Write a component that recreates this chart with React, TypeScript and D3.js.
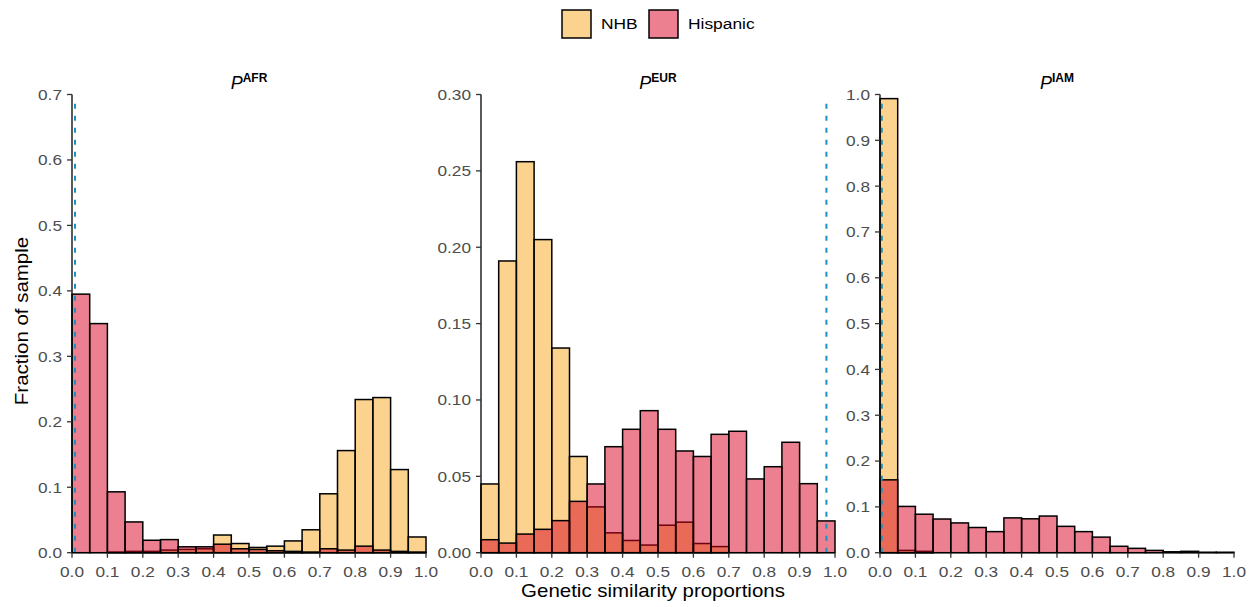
import React from 'react';
import * as d3 from 'd3';

// bin edges: 20 bins of width 0.05 from 0 to 1
const binStarts = d3.range(20).map(i => i * 0.05);

// P^AFR
const afrNHB = [0.000, 0.000, 0.001, 0.002, 0.002, 0.004, 0.005, 0.006, 0.027, 0.014,
    0.008, 0.010, 0.018, 0.035, 0.090, 0.156, 0.234, 0.237, 0.127, 0.024];
const afrHispanic = [0.395, 0.350, 0.093, 0.047, 0.019, 0.020, 0.009, 0.009, 0.013, 0.006,
    0.005, 0.003, 0.002, 0.001, 0.006, 0.004, 0.010, 0.004, 0.002, 0.001];

// P^EUR
const eurNHB = [0.045, 0.191, 0.256, 0.205, 0.134, 0.063, 0.030, 0.013, 0.008, 0.005,
    0.018, 0.020, 0.006, 0.004, 0.000, 0.000, 0.000, 0.000, 0.000, 0.000];
const eurHispanic = [0.0085, 0.0063, 0.0122, 0.0153, 0.021, 0.0336, 0.045, 0.0694, 0.0808, 0.093,
    0.0808, 0.0666, 0.063, 0.0775, 0.0795, 0.0483, 0.0563, 0.0723, 0.0452, 0.0208];

// P^IAM
const iamNHB = [0.991, 0.005, 0.003, 0.000, 0.000, 0.000, 0.000, 0.000, 0.000, 0.000,
    0.000, 0.000, 0.000, 0.000, 0.000, 0.000, 0.000, 0.000, 0.000, 0.000];
const iamHispanic = [0.159, 0.101, 0.084, 0.0735, 0.065, 0.055, 0.046, 0.076, 0.074, 0.080,
    0.0575, 0.046, 0.034, 0.014, 0.0095, 0.005, 0.002, 0.003, 0.001, 0.001];

const xTicks = d3.range(11).map(i => i / 10);
const afrTicks = d3.range(8).map(i => i / 10);
const eurTicks = d3.range(7).map(i => i * 0.05);
const iamTicks = d3.range(11).map(i => i / 10);

// reference lines (dashed)
const vlines = [0.0085, 0.9757, 0.005];

const groups = ['NHB', 'Hispanic'];
const fills = { NHB: 'rgb(247,167,31)', Hispanic: 'rgb(217,1,33)' };

const panels = [
    { sup: 'AFR', nhb: afrNHB, hisp: afrHispanic, yMax: 0.7, ticks: afrTicks, fmt: d3.format('.1f'), x0: 72, vline: vlines[0] },
    { sup: 'EUR', nhb: eurNHB, hisp: eurHispanic, yMax: 0.3, ticks: eurTicks, fmt: d3.format('.2f'), x0: 481, vline: vlines[1] },
    { sup: 'IAM', nhb: iamNHB, hisp: iamHispanic, yMax: 1.0, ticks: iamTicks, fmt: d3.format('.1f'), x0: 880, vline: vlines[2] },
];

const panelWidth = 354;
const yTop = 94.5;
const yBottom = 552.7;
const font = '"Liberation Sans", Arial, sans-serif';

// text that is a bit wider than Liberation Sans, like the original
const WideText = ({ x, y, rotate = 0, sx = 1.15, anchor = 'start', size, fill = '#000', dy = '0', children }) => (
    <text
        transform={`translate(${x},${y}) rotate(${rotate}) scale(${sx},1)`}
        textAnchor={anchor}
        fontSize={size}
        fill={fill}
        dy={dy}
    >
        {children}
    </text>
);

const Panel = ({ p }) => {
    const x = d3.scaleLinear().domain([0, 1]).range([p.x0, p.x0 + panelWidth]);
    const y = d3.scaleLinear().domain([0, p.yMax]).range([yBottom, yTop]);
    const series = [
        { key: 'NHB', values: p.nhb },
        { key: 'Hispanic', values: p.hisp },
    ];
    return (
        <g>
            {series.map(s => (
                <g key={s.key}>
                    {s.values.map((v, i) => (
                        <rect
                            key={i}
                            x={x(binStarts[i])}
                            y={y(v)}
                            width={x(binStarts[i] + 0.05) - x(binStarts[i])}
                            height={yBottom - y(v)}
                            fill={fills[s.key]}
                            fillOpacity={0.5}
                            stroke="#000"
                            strokeWidth={1.5}
                        />
                    ))}
                </g>
            ))}
            <line
                x1={x(p.vline)} x2={x(p.vline)} y1={yBottom} y2={yTop + 6}
                stroke="#1b91bf" strokeWidth={2} strokeDasharray="5,7"
            />
            {/* axes */}
            <line x1={p.x0} x2={p.x0} y1={yTop} y2={yBottom} stroke="#000" strokeWidth={1.3} />
            <line x1={p.x0} x2={p.x0 + panelWidth} y1={yBottom} y2={yBottom} stroke="#000" strokeWidth={1.3} />
            {p.ticks.map(t => (
                <g key={'y' + t}>
                    <line x1={p.x0 - 5} x2={p.x0} y1={y(t)} y2={y(t)} stroke="#333" strokeWidth={1.3} />
                    <WideText x={p.x0 - 10} y={y(t)} dy="0.36em" anchor="end" size={15} fill="#4d4d4d">{p.fmt(t)}</WideText>
                </g>
            ))}
            {xTicks.map(t => (
                <g key={'x' + t}>
                    <line x1={x(t)} x2={x(t)} y1={yBottom} y2={yBottom + 5} stroke="#333" strokeWidth={1.3} />
                    <WideText x={x(t)} y={yBottom + 19} dy="0.36em" anchor="middle" size={15} fill="#4d4d4d">{d3.format('.1f')(t)}</WideText>
                </g>
            ))}
            <text x={p.x0 + panelWidth / 2} y={89} textAnchor="middle" fill="#000">
                <tspan fontStyle="italic" fontSize={18}>P</tspan>
                <tspan fontWeight="bold" fontSize={12} dy={-7}>{p.sup}</tspan>
            </text>
        </g>
    );
};

const App = () => {
    return (
        <svg width={1258} height={607} style={{ position: 'absolute', left: 0, top: 0, fontFamily: font }}>
            <rect width={1258} height={607} fill="#fff" />
            {/* legend */}
            {groups.map((gName, i) => (
                <g key={gName} transform={`translate(${[562, 649][i]},10)`}>
                    <rect width={29} height={28} fill={fills[gName]} fillOpacity={0.5} stroke="#000" strokeWidth={1.5} />
                    <WideText x={39} y={14} dy="0.36em" size={14.5} sx={1.2}>{gName}</WideText>
                </g>
            ))}
            {panels.map(p => <Panel key={p.sup} p={p} />)}
            <WideText x={28} y={321} rotate={-90} anchor="middle" size={17.5} sx={1.17}>Fraction of sample</WideText>
            <WideText x={653} y={597} anchor="middle" size={17.5} sx={1.17}>Genetic similarity proportions</WideText>
        </svg>
    );
};

export default App;
